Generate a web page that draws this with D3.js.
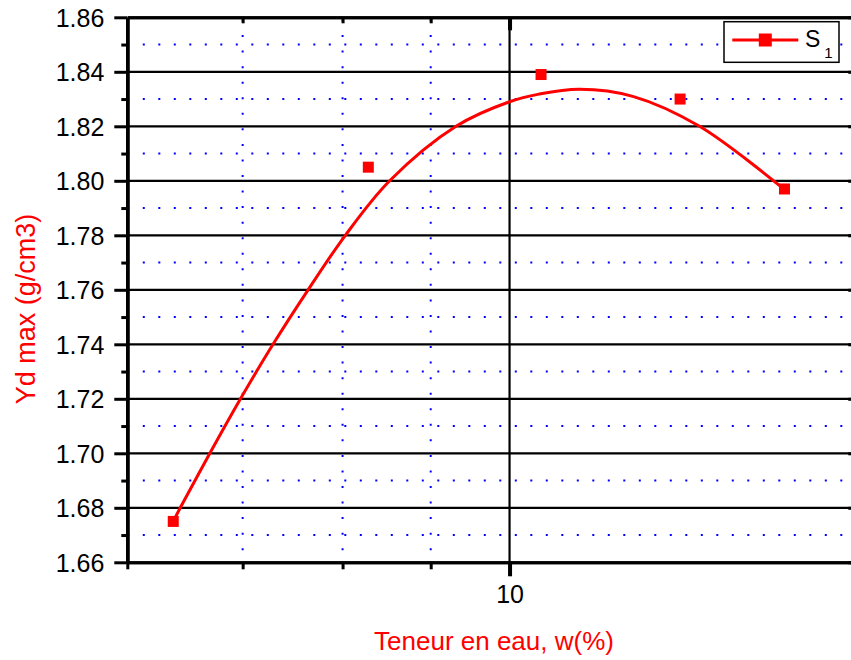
<!DOCTYPE html>
<html>
<head>
<meta charset="utf-8">
<script src="https://cdn.jsdelivr.net/npm/d3@7"></script>
<style>
  html, body { margin: 0; padding: 0; background: #fff; }
  svg { display: block; font-family: "Liberation Sans", Arial, sans-serif; }
</style>
</head>
<body>
<svg id="chart" width="851" height="660"></svg>
<script>
// ---- data ----
const pointW = [6.38, 8.28, 10.43, 12.56, 14.44];
const pointV = [1.675, 1.805, 1.839, 1.830, 1.797];

const fitW = [6.38, 6.44, 6.70, 6.98, 7.29, 7.64, 8.03, 8.52, 9.31, 10.00, 10.40, 10.98, 11.79, 12.89, 14.40];
const fitV = [1.675, 1.680, 1.700, 1.720, 1.740, 1.760, 1.780, 1.800, 1.820, 1.829, 1.8318, 1.8336, 1.8310, 1.820, 1.7974];

const xMajorTicks = [10];
const xMinorTicks = [6, 7, 8, 9];
const yMajorTicks = [1.66, 1.68, 1.70, 1.72, 1.74, 1.76, 1.78, 1.80, 1.82, 1.84, 1.86];
const yMinorTicks = [1.67, 1.69, 1.71, 1.73, 1.75, 1.77, 1.79, 1.81, 1.83, 1.85];

const seriesName = "S";
const seriesSub = "1";
const xTitle = "Teneur en eau, w(%)";
const yTitle = "Yd max (g/cm3)";

// ---- layout ----
const pLeft = 127.3, pTop = 17.3, pBottom = 562.3;
const pxPerDecade = 1723;
const pRight = pLeft + pxPerDecade * Math.log10(16 / 6);

const svg = d3.select("#chart");
const x = d3.scaleLog().domain([6, 16]).range([pLeft, pRight]);
const y = d3.scaleLinear().domain([1.66, 1.86]).range([pBottom, pTop]);

const red = "#ff0000";
const blue = "#0000ff";

// ---- grid ----
const grid = svg.append("g");
grid.selectAll(".hminor").data(yMinorTicks).enter().append("line")
  .attr("x1", pLeft).attr("x2", pRight)
  .attr("y1", d => y(d)).attr("y2", d => y(d))
  .attr("stroke", blue).attr("stroke-width", 2)
  .attr("stroke-dasharray", "2 13.5");
grid.selectAll(".vminor").data([7, 8, 9]).enter().append("line")
  .attr("x1", d => x(d)).attr("x2", d => x(d))
  .attr("y1", pTop).attr("y2", pBottom)
  .attr("stroke", blue).attr("stroke-width", 2)
  .attr("stroke-dasharray", "2 13.55")
  .attr("stroke-dashoffset", -2.2);
grid.selectAll(".hmajor").data(yMajorTicks.filter(d => d > 1.661 && d < 1.859)).enter().append("line")
  .attr("x1", pLeft).attr("x2", pRight)
  .attr("y1", d => y(d)).attr("y2", d => y(d))
  .attr("stroke", "#000").attr("stroke-width", 2.2);
grid.selectAll(".vmajor").data(xMajorTicks).enter().append("line")
  .attr("x1", d => x(d)).attr("x2", d => x(d))
  .attr("y1", pTop).attr("y2", pBottom)
  .attr("stroke", "#000").attr("stroke-width", 2.2);

// ---- axes ----
function styleAxis(g, width) {
  g.select(".domain").attr("stroke", "#000").attr("stroke-width", width);
  g.selectAll(".tick line").attr("stroke", "#000").attr("stroke-width", 3);
  g.selectAll("text").attr("fill", "#000").style("font-size", "25px")
    .style("font-family", '"Liberation Sans", Arial, sans-serif');
}

// bottom
const bMaj = svg.append("g").attr("transform", `translate(0,${pBottom})`)
  .call(d3.axisBottom(x).tickValues(xMajorTicks).tickFormat(d3.format("d"))
    .tickSize(14).tickSizeOuter(0).tickPadding(9));
styleAxis(bMaj, 3);
bMaj.selectAll(".tick line").attr("stroke-width", 4);
const bMin = svg.append("g").attr("transform", `translate(0,${pBottom})`)
  .call(d3.axisBottom(x).tickValues(xMinorTicks).tickFormat("").tickSize(7).tickSizeOuter(0));
styleAxis(bMin, 3);

// top (inward ticks)
const tMaj = svg.append("g").attr("transform", `translate(0,${pTop})`)
  .call(d3.axisBottom(x).tickValues(xMajorTicks).tickFormat("").tickSize(13).tickSizeOuter(0));
styleAxis(tMaj, 3);
tMaj.selectAll(".tick line").attr("stroke-width", 4);
const tMin = svg.append("g").attr("transform", `translate(0,${pTop})`)
  .call(d3.axisBottom(x).tickValues(xMinorTicks.filter(d => d > 6)).tickFormat("").tickSize(6).tickSizeOuter(0));
styleAxis(tMin, 3);

// left
const lMaj = svg.append("g").attr("transform", `translate(${pLeft},0)`)
  .call(d3.axisLeft(y).tickValues(yMajorTicks).tickFormat(d3.format(".2f"))
    .tickSize(13).tickSizeOuter(0).tickPadding(10));
styleAxis(lMaj, 3.5);
lMaj.selectAll("text").attr("dy", "0.36em");
const lMin = svg.append("g").attr("transform", `translate(${pLeft},0)`)
  .call(d3.axisLeft(y).tickValues(yMinorTicks).tickFormat("").tickSize(6).tickSizeOuter(0));
styleAxis(lMin, 3.5);

// right (mostly outside the picture, inward ticks)
const rMaj = svg.append("g").attr("transform", `translate(${pRight},0)`)
  .call(d3.axisLeft(y).tickValues(yMajorTicks).tickFormat("").tickSize(13).tickSizeOuter(0));
styleAxis(rMaj, 3);

// ---- fit curve ----
const fitData = fitW.map((w, i) => [w, fitV[i]]);
svg.append("path")
  .datum(fitData)
  .attr("fill", "none")
  .attr("stroke", red)
  .attr("stroke-width", 3)
  .attr("stroke-linejoin", "round")
  .attr("d", d3.line().x(d => x(d[0])).y(d => y(d[1])).curve(d3.curveCatmullRom.alpha(0.5)));

// ---- points ----
const ms = 11;
svg.selectAll(".pt").data(pointW.map((w, i) => [w, pointV[i]])).enter().append("rect")
  .attr("x", d => x(d[0]) - ms / 2)
  .attr("y", d => y(d[1]) - ms / 2)
  .attr("width", ms).attr("height", ms)
  .attr("fill", red);

// ---- axis titles ----
svg.append("text")
  .attr("x", 494).attr("y", 650)
  .attr("text-anchor", "middle")
  .attr("fill", red)
  .style("font-size", "26px")
  .text(xTitle);

svg.append("text")
  .attr("transform", "translate(34.5,309) rotate(-90)")
  .attr("text-anchor", "middle")
  .attr("fill", red)
  .style("font-size", "27px")
  .text(yTitle);

// ---- legend ----
const lg = svg.append("g");
lg.append("rect")
  .attr("x", 724).attr("y", 21.7).attr("width", 115).attr("height", 40.6)
  .attr("fill", "#fff").attr("stroke", "#000").attr("stroke-width", 1.5);
lg.append("line")
  .attr("x1", 732.3).attr("x2", 798.3).attr("y1", 40).attr("y2", 40)
  .attr("stroke", red).attr("stroke-width", 3);
lg.append("rect")
  .attr("x", 765.3 - 6.5).attr("y", 40 - 6.5).attr("width", 13).attr("height", 13)
  .attr("fill", red);
const lt = lg.append("text").attr("x", 805).attr("y", 47).attr("fill", "#000").style("font-size", "23px");
lt.append("tspan").text(seriesName);
lt.append("tspan").attr("dx", 4).attr("dy", 11).style("font-size", "15px").text(seriesSub);
</script>
</body>
</html>
